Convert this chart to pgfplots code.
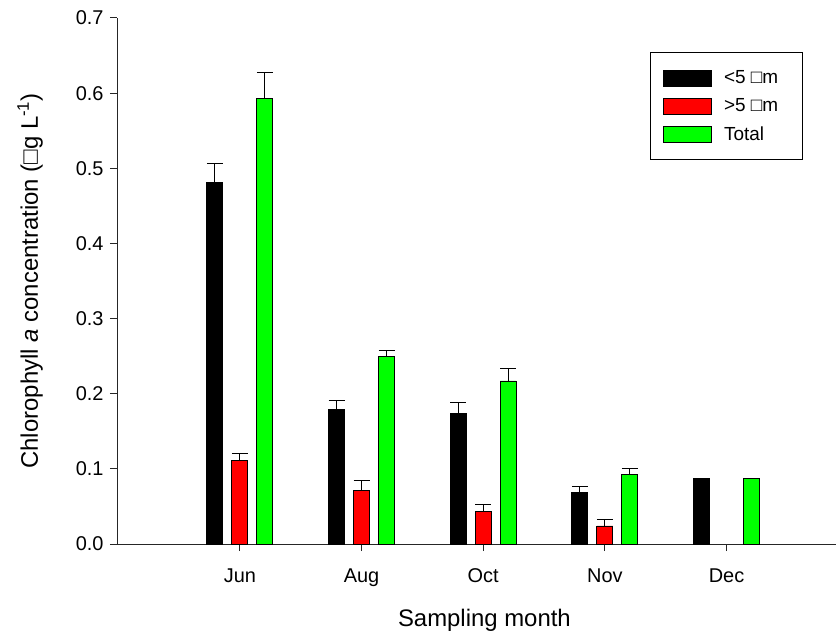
\documentclass[border=0pt]{standalone}
\usepackage{fontspec}
\setmainfont{Liberation Sans}
\usepackage{pgfplots}
\pgfplotsset{compat=1.18}
\pgfplotsset{mylegend/.style={legend image code/.code={\draw[##1, line width=0.8pt] (0bp,-8bp) rectangle (48bp,8bp);}}}
\begin{document}
\begin{tikzpicture}
\begin{axis}[
  scale only axis, width=719bp, height=526bp,
  xmin=-1.01, xmax=4.9, ymin=0, ymax=0.7,
  axis x line*=bottom, axis y line*=left,
  axis line style={line width=1pt, black!85},
  ybar=9bp, bar width=16bp,
  every axis plot post/.append style={mylegend},
  xtick={0,1,2,3,4}, xticklabels={Jun,Aug,Oct,Nov,Dec},
  ytick={0,0.1,0.2,0.3,0.4,0.5,0.6,0.7},
  yticklabel style={/pgf/number format/fixed, /pgf/number format/fixed zerofill, /pgf/number format/precision=1, xshift=-3bp},
  /pgf/number format/assume math mode=true,
  tick align=outside, major tick length=7bp,
  tick style={line width=1pt, black!85},
  ticklabel style={font=\fontsize{20}{23}\selectfont},
  xticklabel style={yshift=-14bp},
  xlabel={Sampling month},
  ylabel={Chlorophyll \textit{a} concentration (□g L\textsuperscript{-1})},
  label style={font=\fontsize{24}{28}\selectfont},
  xlabel style={at={(axis description cs:0.511,-0.145)}, anchor=center},
  ylabel style={at={(axis description cs:-0.121,0.5)}, anchor=center, rotate=0},
  legend style={at={(rel axis cs:0.741,0.935)}, anchor=north west, draw=black, line width=1pt,
    font=\fontsize{19}{22}\selectfont, inner xsep=13bp, inner ysep=16bp, row sep=9.5bp,
    /tikz/every odd column/.append style={column sep=10bp}},
  legend cell align=left,
  clip=false,
]
\addplot[fill=black, draw=black, line width=0.8pt,
  error bars/.cd, y dir=plus, y explicit,
  error bar style={black, line width=1pt},
  error mark options={rotate=90, mark size=8bp, line width=1pt, black}]
  coordinates {(0,0.481) +- (0,0.026) (1,0.179) +- (0,0.012) (2,0.174) +- (0,0.014) (3,0.069) +- (0,0.007) (4,0.087) +- (0,0)};
\addlegendentry{\makebox[63bp][l]{<5 □m}}
\addplot[fill=red, draw=black, line width=0.8pt,
  error bars/.cd, y dir=plus, y explicit,
  error bar style={black, line width=1pt},
  error mark options={rotate=90, mark size=8bp, line width=1pt, black}]
  coordinates {(0,0.111) +- (0,0.010) (1,0.071) +- (0,0.014) (2,0.043) +- (0,0.009) (3,0.024) +- (0,0.008)};
\addlegendentry{\makebox[63bp][l]{>5 □m}}
\addplot[fill=green, draw=black, line width=0.8pt,
  error bars/.cd, y dir=plus, y explicit,
  error bar style={black, line width=1pt},
  error mark options={rotate=90, mark size=8bp, line width=1pt, black}]
  coordinates {(0,0.593) +- (0,0.035) (1,0.250) +- (0,0.008) (2,0.217) +- (0,0.017) (3,0.093) +- (0,0.007) (4,0.087) +- (0,0)};
\addlegendentry{\makebox[63bp][l]{Total}}
\end{axis}
\pgfresetboundingbox
\path[use as bounding box] (-117bp,-89bp) rectangle (719bp,544bp);
\end{tikzpicture}
\end{document}
